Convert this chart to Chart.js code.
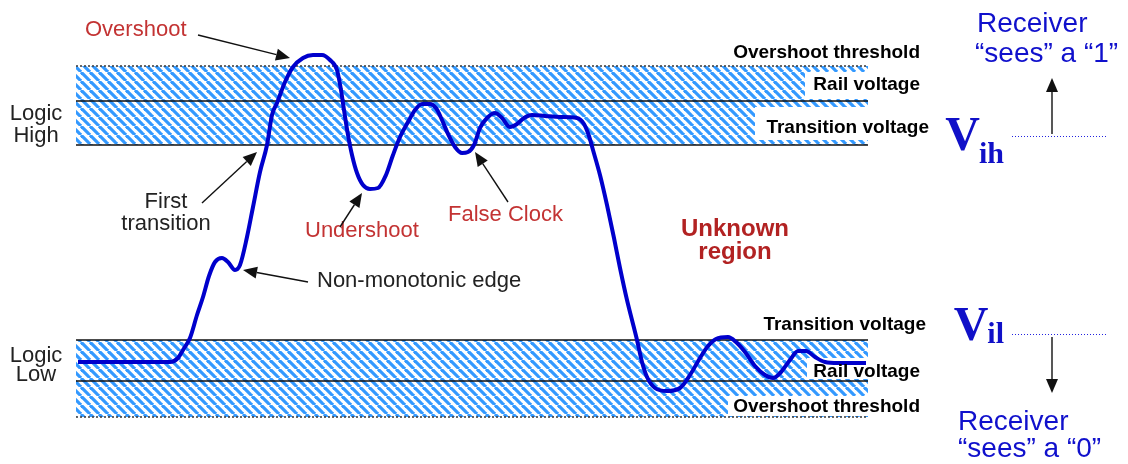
<!DOCTYPE html>
<html>
<head>
<meta charset="utf-8">
<title>Logic levels, overshoot and ringing</title>
<script src="https://cdn.jsdelivr.net/npm/chart.js@4.4.1/dist/chart.umd.min.js"></script>
<style>
  html, body { margin: 0; padding: 0; background: #fff; }
  #wrap { width: 1128px; height: 464px; }
</style>
</head>
<body>
<div id="wrap"><canvas id="sig" width="1128" height="464"></canvas></div>
<script>
// scope trace: time in ns, signal in V
const timeNs = [
  7.8, 17.0, 17.8, 18.3, 19.0, 19.7, 20.3, 20.9, 21.5, 22.2,
  22.8, 23.5, 24.0, 24.7, 25.3, 26.0, 26.7, 27.2, 27.7, 28.5,
  29.3, 30.3, 31.3, 32.2, 33.0, 33.7, 34.1, 34.4, 34.8, 35.2,
  35.7, 36.3, 37.0, 37.8, 38.6, 39.3, 40.0, 40.8, 41.5, 42.2,
  43.0, 43.6, 44.2, 44.8, 45.5, 46.2, 46.8, 47.4, 48.0, 48.7,
  49.5, 50.2, 51.0, 51.7, 52.4, 53.2, 54.5, 56.0, 57.7, 58.4,
  58.9, 59.3, 60.0, 60.7, 61.4, 62.0, 62.7, 63.2, 63.7, 64.2,
  64.7, 65.5, 66.7, 68.0, 69.0, 70.0, 70.8, 71.6, 72.8, 73.6,
  74.5, 75.5, 76.5, 77.3, 78.1, 79.0, 79.8, 80.6, 81.5, 82.5,
  83.8, 86.6
];
const signalV = [
  0.19, 0.19, 0.23, 0.31, 0.43, 0.66, 0.84, 1.05, 1.19, 1.23,
  1.19, 1.11, 1.16, 1.44, 1.74, 2.09, 2.36, 2.66, 2.78, 2.99,
  3.14, 3.23, 3.26, 3.26, 3.21, 3.11, 2.91, 2.71, 2.46, 2.26,
  2.08, 1.96, 1.92, 1.93, 2.06, 2.26, 2.44, 2.59, 2.71, 2.77,
  2.77, 2.73, 2.61, 2.47, 2.34, 2.28, 2.29, 2.36, 2.53, 2.63,
  2.68, 2.63, 2.54, 2.57, 2.63, 2.66, 2.65, 2.64, 2.63, 2.57,
  2.45, 2.31, 2.06, 1.76, 1.43, 1.13, 0.81, 0.61, 0.41, 0.19,
  0.04, -0.07, -0.10, -0.07, 0.06, 0.23, 0.35, 0.42, 0.44, 0.39,
  0.29, 0.15, 0.06, 0.03, 0.09, 0.21, 0.30, 0.30, 0.24, 0.19,
  0.18, 0.18
];

// levels (V): overshoot threshold, rail, transition
const levelNames = ["Overshoot threshold", "Rail voltage", "Transition voltage"];
const highLevels = [3.15, 2.8, 2.36];
const lowLevels = [-0.36, 0, 0.41];
const bandSpanNs = [7.6, 86.8];

function hatch() {
  const p = 9;
  const c = document.createElement("canvas");
  c.width = p;
  c.height = p;
  const g = c.getContext("2d");
  g.strokeStyle = "#3399ff";
  g.lineWidth = 3.2;
  for (let k = -1; k <= 1; k++) {
    g.beginPath();
    g.moveTo(k * p, 0);
    g.lineTo(k * p + p, p);
    g.stroke();
  }
  return g.createPattern(c, "repeat");
}
const stripes = hatch();

function levelLine(v, dotted, fillTo) {
  return {
    data: bandSpanNs.map((t) => ({ x: t, y: v })),
    borderColor: dotted ? "#444" : "#111",
    borderWidth: dotted ? 1.6 : 1.4,
    borderDash: dotted ? [2, 2] : [],
    pointRadius: 0,
    backgroundColor: stripes,
    fill: fillTo === undefined ? false : fillTo,
    order: dotted ? 2 : 1,
  };
}

const datasets = [
  {
    label: "signal",
    data: timeNs.map((t, i) => ({ x: t, y: signalV[i] })),
    borderColor: "#0000cc",
    borderWidth: 4,
    pointRadius: 0,
    cubicInterpolationMode: "monotone",
    fill: false,
    order: 0,
  },
  levelLine(highLevels[0], true, 3),
  levelLine(highLevels[1], false),
  levelLine(highLevels[2], false),
  levelLine(lowLevels[0], true, 6),
  levelLine(lowLevels[1], false),
  levelLine(lowLevels[2], false),
];

// white boxes behind the band labels
const labelBoxes = [
  [805, 72, 130, 27],
  [755, 107, 180, 33],
  [807, 358, 125, 21],
  [728, 396, 200, 20],
];

function txt(ctx, s, x, y, font, color, align) {
  ctx.font = font;
  ctx.fillStyle = color;
  ctx.textAlign = align || "left";
  ctx.textBaseline = "alphabetic";
  ctx.fillText(s, x, y);
}

function arrow(ctx, x1, y1, x2, y2) {
  const a = Math.atan2(y2 - y1, x2 - x1);
  const len = 14, w = 6;
  ctx.strokeStyle = "#111";
  ctx.fillStyle = "#111";
  ctx.lineWidth = 1.4;
  ctx.beginPath();
  ctx.moveTo(x1, y1);
  ctx.lineTo(x2 - Math.cos(a) * len, y2 - Math.sin(a) * len);
  ctx.stroke();
  ctx.beginPath();
  ctx.moveTo(x2, y2);
  ctx.lineTo(x2 - Math.cos(a) * len - Math.sin(a) * w, y2 - Math.sin(a) * len + Math.cos(a) * w);
  ctx.lineTo(x2 - Math.cos(a) * len + Math.sin(a) * w, y2 - Math.sin(a) * len - Math.cos(a) * w);
  ctx.closePath();
  ctx.fill();
}

function vLabel(ctx, sub, right, base, subBase) {
  const blue = "#1010c8";
  ctx.font = 'bold 30px "Liberation Serif"';
  const sw = ctx.measureText(sub).width;
  txt(ctx, sub, right, subBase, 'bold 30px "Liberation Serif"', blue, "right");
  txt(ctx, "V", right - sw + 1, base, 'bold 48px "Liberation Serif"', blue, "right");
}

const annotations = {
  id: "annotations",
  beforeDatasetDraw(chart, args) {
    if (args.index !== 0) return;
    const ctx = chart.ctx;
    ctx.save();
    ctx.fillStyle = "#fff";
    labelBoxes.forEach((b) => ctx.fillRect(b[0], b[1], b[2], b[3]));
    ctx.restore();
  },
  afterDatasetsDraw(chart) {
    const ctx = chart.ctx;
    ctx.save();
    const red = "#c33333";
    const dark = "#222";
    const f = '22px "Liberation Sans"';
    const fb = 'bold 19px "Liberation Sans"';

    // band labels
    txt(ctx, levelNames[0], 920, 58, fb, "#000", "right");
    txt(ctx, levelNames[1], 920, 90, fb, "#000", "right");
    txt(ctx, levelNames[2], 929, 133, fb, "#000", "right");
    txt(ctx, levelNames[2], 926, 330, fb, "#000", "right");
    txt(ctx, levelNames[1], 920, 377, fb, "#000", "right");
    txt(ctx, levelNames[0], 920, 412, fb, "#000", "right");

    txt(ctx, "Logic", 36, 120, f, dark, "center");
    txt(ctx, "High", 36, 142, f, dark, "center");
    txt(ctx, "Logic", 36, 362, f, dark, "center");
    txt(ctx, "Low", 36, 381, f, dark, "center");

    txt(ctx, "Overshoot", 85, 36, f, red);
    txt(ctx, "Undershoot", 305, 237, f, red);
    txt(ctx, "False Clock", 448, 221, f, red);
    txt(ctx, "Non-monotonic edge", 317, 287, f, dark);
    txt(ctx, "First", 166, 208, f, dark, "center");
    txt(ctx, "transition", 166, 230, f, dark, "center");

    txt(ctx, "Unknown", 735, 236, 'bold 24px "Liberation Sans"', "#b22222", "center");
    txt(ctx, "region", 735, 259, 'bold 24px "Liberation Sans"', "#b22222", "center");

    arrow(ctx, 198, 35, 290, 58);
    arrow(ctx, 202, 203, 257, 152);
    arrow(ctx, 308, 282, 243, 270);
    arrow(ctx, 340, 227, 362, 193);
    arrow(ctx, 508, 202, 475, 152);

    // receiver side
    vLabel(ctx, "ih", 1004, 150, 163);
    vLabel(ctx, "il", 1004, 340, 343);
    ctx.strokeStyle = "#2323e0";
    ctx.lineWidth = 1.2;
    ctx.setLineDash([1, 2]);
    ctx.beginPath();
    ctx.moveTo(1012, 136.5);
    ctx.lineTo(1108, 136.5);
    ctx.moveTo(1012, 334.5);
    ctx.lineTo(1108, 334.5);
    ctx.stroke();
    ctx.setLineDash([]);
    arrow(ctx, 1052, 134, 1052, 78);
    arrow(ctx, 1052, 337, 1052, 393);

    const rf = '28px "Liberation Sans"';
    const rc = "#1010cc";
    txt(ctx, "Receiver", 977, 32, rf, rc);
    txt(ctx, "\u201csees\u201d a \u201c1\u201d", 975, 62, rf, rc);
    txt(ctx, "Receiver", 958, 430, rf, rc);
    txt(ctx, "\u201csees\u201d a \u201c0\u201d", 958, 457, rf, rc);
    ctx.restore();
  },
};

new Chart(document.getElementById("sig"), {
  type: "line",
  data: { datasets: datasets },
  options: {
    responsive: false,
    animation: false,
    events: [],
    layout: { padding: 0 },
    scales: {
      x: { type: "linear", min: 0, max: 112.8, display: false },
      y: { type: "linear", min: -0.83, max: 3.81, display: false },
    },
    plugins: {
      legend: { display: false },
      tooltip: { enabled: false },
    },
  },
  plugins: [annotations],
});
</script>
</body>
</html>
